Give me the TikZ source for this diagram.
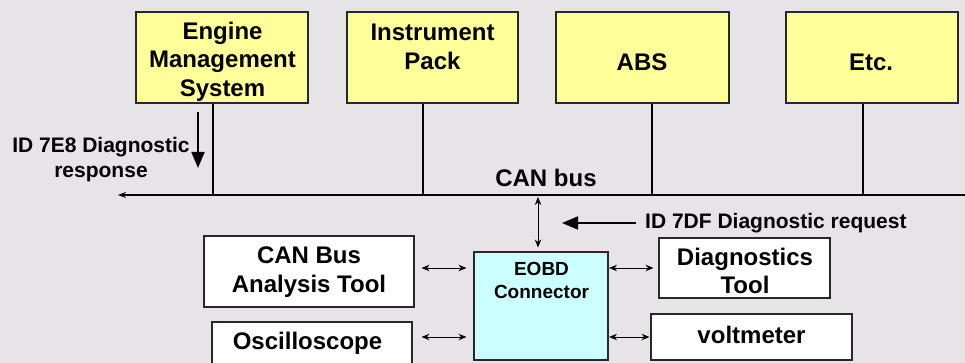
\documentclass[tikz,border=0pt]{standalone}
\usepackage{fontspec}
\setmainfont{Liberation Sans}
\usetikzlibrary{arrows.meta}
\definecolor{bg}{RGB}{230,228,230}
\definecolor{ecuyellow}{RGB}{255,255,153}
\definecolor{eobdcyan}{RGB}{204,255,255}
\definecolor{edge}{RGB}{40,40,40}
\tikzset{
  boxbase/.style={draw=edge, line width=1.1pt, inner sep=0pt, anchor=center},
  ybox/.style={boxbase, fill=ecuyellow},
  wbox/.style={boxbase, fill=white},
  cbox/.style={boxbase, fill=eobdcyan},
  bigtxt/.style={font=\bfseries\fontsize{24}{28.5}\selectfont, align=center, inner sep=0pt},
  midtxt/.style={font=\bfseries\fontsize{21}{25}\selectfont, align=center, inner sep=0pt},
  smalltxt/.style={font=\bfseries\fontsize{19}{23}\selectfont, align=center, inner sep=0pt},
  drop/.style={line width=2pt, draw=black},
  busline/.style={line width=2.5pt, draw=black},
  dbl/.style={line width=0.9pt, {Stealth[length=8pt,width=6.5pt]}-{Stealth[length=8pt,width=6.5pt]}},
  bigarrow/.style={line width=1.8pt, -{Triangle[length=16pt,width=13pt]}},
}
\begin{document}
\begin{tikzpicture}[x=1pt,y=-1pt]
  \fill[bg] (0,0) rectangle (965,363);
  \useasboundingbox (0,0) rectangle (965,363);

  % ECU boxes
  \node[ybox, minimum width=172, minimum height=91] (ems) at (222,57.5) {};
  \node[ybox, minimum width=171, minimum height=91] (ipk) at (432.5,57.5) {};
  \node[ybox, minimum width=173, minimum height=91] (abs) at (642.5,57.5) {};
  \node[ybox, minimum width=172, minimum height=91] (etc) at (872,57.5) {};
  \node[bigtxt] (emst) at (222.5,61.5) {Engine\\Management\\System};
  \node[bigtxt] (ipkt) at (432.5,47) {Instrument\\Pack};
  \node[bigtxt] (abst) at (642,62) {ABS};
  \node[bigtxt] (etct) at (871,62.5) {Etc.};

  % bus
  \coordinate (busL) at (118,195);
  \coordinate (busR) at (966,195);
  \draw[busline, -{Stealth[length=8pt,width=6pt]}] (busR) -- (busL);
  \foreach \b/\dx in {ems/-9.5,ipk/-9.5,abs/9.5,etc/-9.5}
    \draw[drop] ([xshift=\dx pt]\b.south) -- ([xshift=\dx pt]\b.south |- busL);
  \node[bigtxt] (canlbl) at (546,178) {CAN bus};

  % response
  \node[midtxt] (resp) at (101,159.5) {ID 7E8 Diagnostic\\response};
  \coordinate (respA) at (198,112);
  \coordinate (respB) at (198,168);
  \draw[bigarrow] (respA) -- (respB);

  % request
  \node[midtxt, anchor=west] (req) at (645,223) {ID 7DF Diagnostic request};
  \coordinate (reqtip) at (562,223);
  \draw[bigarrow] ([xshift=-9pt]req.west) -- (reqtip);

  % bottom boxes
  \node[cbox, minimum width=134, minimum height=108] (eobd) at (541,306) {};
  \node[smalltxt] (eobdt) at (541.5,280.5) {EOBD\\Connector};
  \node[wbox, minimum width=210, minimum height=71] (canbus) at (309,271.5) {};
  \node[bigtxt] (canbust) at (309,272) {CAN Bus\\Analysis Tool};
  \node[wbox, minimum width=200, minimum height=54] (osc) at (312,349) {};
  \node[bigtxt] (osct) at (307.5,343) {Oscilloscope};
  \node[wbox, minimum width=171, minimum height=60] (diag) at (744.5,268) {};
  \node[bigtxt] (diagt) at (745,271) {Diagnostics\\Tool};
  \node[wbox, minimum width=201, minimum height=46] (volt) at (751.5,337) {};
  \node[bigtxt] (voltt) at (751.5,335) {voltmeter};

  % connector arrows
  \coordinate (tap) at (538,197);
  \draw[dbl, shorten >=4pt] (tap) -- (tap |- eobd.north);
  \coordinate (rowA) at (0,268);
  \coordinate (rowB) at (0,337);
  \draw[dbl, shorten <=7pt, shorten >=7pt] (canbus.east |- rowA) -- (eobd.west |- rowA);
  \draw[dbl, shorten <=9pt, shorten >=7pt] (osc.east |- rowB) -- (eobd.west |- rowB);
  \draw[dbl, shorten <=0.5pt, shorten >=5pt] (eobd.east |- rowA) -- (diag.west |- rowA);
  \draw[dbl, shorten <=0.5pt, shorten >=1pt] (eobd.east |- rowB) -- (volt.west |- rowB);
\end{tikzpicture}
\end{document}
